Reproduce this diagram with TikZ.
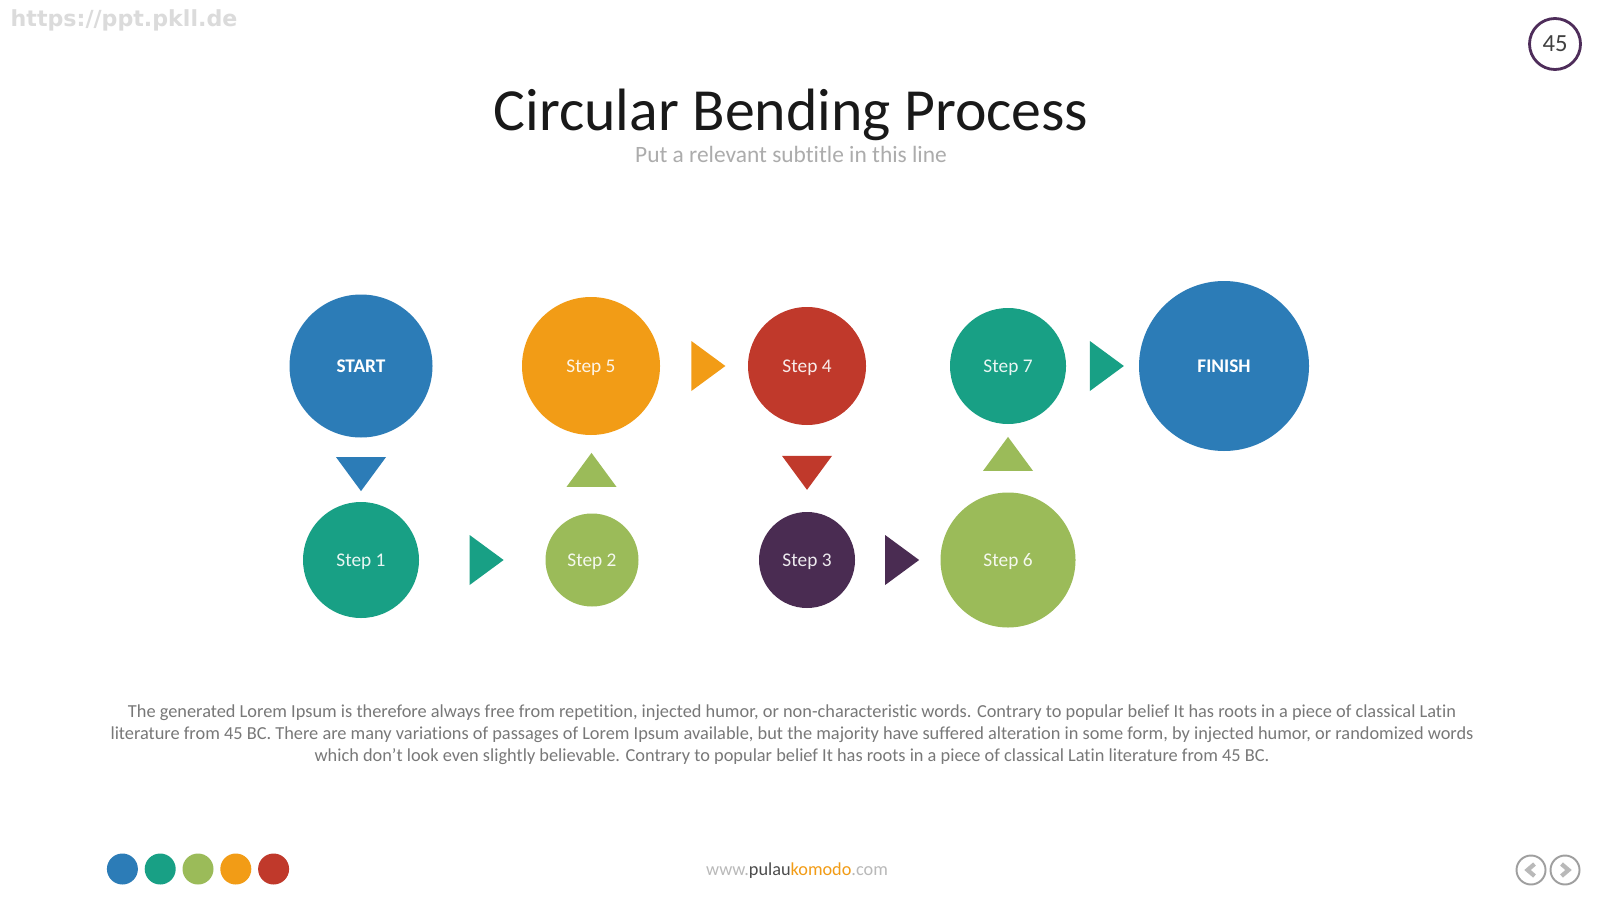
\documentclass[tikz,border=0pt]{standalone}
\usepackage{fontspec}
\setmainfont{Carlito}[Ligatures=NoCommon]
\newfontfamily\webfont{DejaVu Sans}
\usepackage{xcolor}
\usepackage{tikz}
\usetikzlibrary{shapes.geometric, calc, positioning}
\definecolor{flowblue}{RGB}{44, 124, 183}
\definecolor{flowteal}{RGB}{24, 160, 133}
\definecolor{flowgreen}{RGB}{155, 187, 89}
\definecolor{floworange}{RGB}{242, 156, 22}
\definecolor{flowred}{RGB}{192, 57, 43}
\definecolor{flowpurple}{RGB}{74, 44, 82}
\definecolor{ringpurple}{RGB}{78, 45, 90}
\definecolor{bodygray}{RGB}{120, 120, 120}

\begin{document}
\begin{tikzpicture}[
    % Node Styles
    stepnode/.style={circle, fill=#1, inner sep=0pt, text=white, text opacity=0.9, text depth=0pt, font=\fontsize{5.5}{6.5}\selectfont},
    endnode/.style={circle, fill=#1, inner sep=0pt, text=white, text depth=0pt, font=\fontsize{5.5}{6.5}\selectfont\bfseries},
    flowtri/.style={isosceles triangle, isosceles triangle stretches, fill=#1, inner sep=0pt, outer sep=0pt, minimum width=0.50cm, minimum height=0.34cm},
    dotnode/.style={circle, fill=#1, inner sep=0pt, minimum size=0.31cm},
    navbtn/.style={circle, draw=gray!75, line width=0.55pt, inner sep=0pt, minimum size=0.29cm},
    chev/.style={draw=gray!55, line width=1.2pt},
    bodytext/.style={align=center, text=bodygray, font=\fontsize{5.22}{6.26}\selectfont}
]
    \useasboundingbox (0,0) rectangle (16,9);
    \fill[white] (0,0) rectangle (16,9);

    % =========================================================================
    % 1. HEADER: WATERMARK, TITLE, PAGE NUMBER
    % =========================================================================
    \node (wmark) [anchor=west, inner sep=0pt, text=gray!28, font=\webfont\bfseries\fontsize{6.3}{7}\selectfont] at (0.10, 8.795) {https://ppt.pkll.de};
    \node (title) [anchor=base, inner sep=0pt, text=black!90, font=\fontsize{17}{20}\selectfont] at (7.91, 7.69) {Circular Bending Process};
    \node (subtitle) [anchor=base, inner sep=0pt, text=gray!65, font=\fontsize{6.66}{7.5}\selectfont] at (7.91, 7.37) {Put a relevant subtitle in this line};
    \node (pagenum) [circle, draw=ringpurple, line width=0.8pt, minimum size=0.51cm, inner sep=0pt, text=black!75, font=\fontsize{7}{8}\selectfont] at (15.55, 8.56) {45};

    % =========================================================================
    % 2. TOP ROW
    % =========================================================================
    \node (start)  [endnode=flowblue,    minimum size=1.43cm] at (3.61, 5.34)  {START};
    \node (step5)  [stepnode=floworange, minimum size=1.38cm] at (5.91, 5.34)  {Step 5};
    \node (step4)  [stepnode=flowred,    minimum size=1.18cm] at (8.07, 5.34)  {Step 4};
    \node (step7)  [stepnode=flowteal,   minimum size=1.16cm] at (10.08, 5.34) {Step 7};
    \node (finish) [endnode=flowblue,    minimum size=1.70cm] at (12.24, 5.34) {FINISH};

    % =========================================================================
    % 3. BOTTOM ROW
    % =========================================================================
    \node (step1) [stepnode=flowteal,   minimum size=1.16cm] at (3.61, 3.40)  {Step 1};
    \node (step2) [stepnode=flowgreen,  minimum size=0.93cm] at (5.92, 3.40)  {Step 2};
    \node (step3) [stepnode=flowpurple, minimum size=0.96cm] at (8.07, 3.40)  {Step 3};
    \node (step6) [stepnode=flowgreen,  minimum size=1.35cm] at (10.08, 3.40) {Step 6};

    % =========================================================================
    % CONNECTIONS (TRIANGLES)
    % =========================================================================
    \node (tri1) [flowtri=flowblue,   rotate=-90] at ($(start.south)!0.5!(step1.north)$) {};
    \node (tri2) [flowtri=flowteal]               at ($(step1.east)!0.5!(step2.west)$) {};
    \node (tri3) [flowtri=flowgreen,  rotate=90]  at ($(step2.north)!0.5!(step5.south)$) {};
    \node (tri4) [flowtri=floworange]             at ($(step5.east)!0.5!(step4.west)$) {};
    \node (tri5) [flowtri=flowred,    rotate=-90] at ($(step4.south)!0.5!(step3.north)$) {};
    \node (tri6) [flowtri=flowpurple]             at ($(step3.east)!0.5!(step6.west)$) {};
    \node (tri7) [flowtri=flowgreen,  rotate=90]  at ($(step6.north)!0.5!(step7.south)$) {};
    \node (tri8) [flowtri=flowteal]               at ($(step7.east)!0.5!(finish.west)$) {};

    % =========================================================================
    % 4. BODY TEXT
    % =========================================================================
    \node (body) [bodytext] at (7.92, 1.65) {The generated Lorem Ipsum is therefore always free from repetition, injected humor, or non-characteristic words. Contrary to popular belief It has roots in a piece of classical Latin\\
      literature from 45 BC. There are many variations of passages of Lorem Ipsum available, but the majority have suffered alteration in some form, by injected humor, or randomized words\\
      which don't look even slightly believable. Contrary to popular belief It has roots in a piece of classical Latin literature from 45 BC.};

    % =========================================================================
    % 5. FOOTER
    % =========================================================================
    \foreach \col [count=\i from 0] in {flowblue, flowteal, flowgreen, floworange, flowred}
      \node (dot\i) [dotnode=\col] at (1.224 + 0.378*\i, 0.31) {};

    \node (footer) [inner sep=0pt, font=\fontsize{5.2}{6}\selectfont] at (7.97, 0.29)
      {\textcolor{gray!55}{www.}\textcolor{black!70}{pulau}\textcolor{floworange}{komodo}\textcolor{gray!55}{.com}};

    \node (navprev) [navbtn] at (15.31, 0.30) {};
    \node (navnext) [navbtn] at (15.65, 0.30) {};
    \draw[chev] ($(navprev)+(0.035,0.06)$) -- ($(navprev)+(-0.035,0)$) -- ($(navprev)+(0.035,-0.06)$);
    \draw[chev] ($(navnext)+(-0.035,0.06)$) -- ($(navnext)+(0.035,0)$) -- ($(navnext)+(-0.035,-0.06)$);

\end{tikzpicture}
\end{document}
